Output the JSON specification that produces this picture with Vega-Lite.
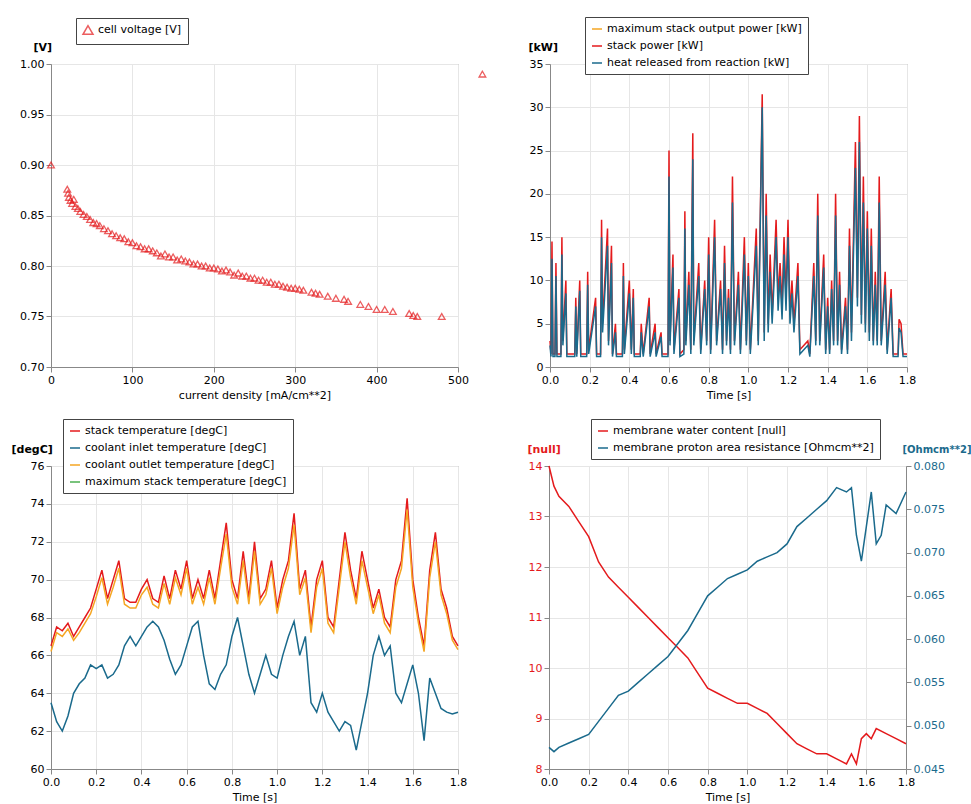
{
  "$schema": "https://vega.github.io/schema/vega-lite/v6.json",
  "background": "white",
  "padding": {"left": 10, "top": 16, "right": 0, "bottom": 0},
  "config": {
    "font": "DejaVu Sans",
    "view": {"stroke": "#999999"},
    "axis": {"labelFontSize": 11, "labelColor": "black", "titleFontSize": 11, "titleFontWeight": "normal", "titleColor": "black", "gridColor": "#e6e6e6", "domainColor": "#888", "tickColor": "#888", "labelOverlap": false, "labelFlush": false},
    "legend": {"orient": "none", "strokeColor": "#444", "fillColor": "white", "padding": 6, "labelFontSize": 11, "labelColor": "black", "title": null, "symbolStrokeWidth": 1.5, "rowPadding": 6, "labelLimit": 400},
    "concat": {"spacing": 10}
  },
  "datasets": {
    "iv": [
      {"j": 0, "v": 0.9}, {"j": 20, "v": 0.876}, {"j": 21, "v": 0.872}, {"j": 22, "v": 0.868}, {"j": 24, "v": 0.865}, {"j": 26, "v": 0.862}, {"j": 28, "v": 0.866}, {"j": 30, "v": 0.859}, {"j": 33, "v": 0.857},
      {"j": 36, "v": 0.854}, {"j": 40, "v": 0.851}, {"j": 44, "v": 0.849}, {"j": 48, "v": 0.846}, {"j": 52, "v": 0.843}, {"j": 56, "v": 0.842}, {"j": 60, "v": 0.84}, {"j": 65, "v": 0.837},
      {"j": 70, "v": 0.835}, {"j": 75, "v": 0.832}, {"j": 80, "v": 0.83}, {"j": 85, "v": 0.828}, {"j": 90, "v": 0.827}, {"j": 95, "v": 0.824}, {"j": 100, "v": 0.823}, {"j": 105, "v": 0.82},
      {"j": 110, "v": 0.819}, {"j": 115, "v": 0.817}, {"j": 120, "v": 0.817}, {"j": 125, "v": 0.815}, {"j": 130, "v": 0.813}, {"j": 135, "v": 0.81}, {"j": 140, "v": 0.812}, {"j": 145, "v": 0.809},
      {"j": 150, "v": 0.809}, {"j": 155, "v": 0.806}, {"j": 160, "v": 0.807}, {"j": 165, "v": 0.805}, {"j": 170, "v": 0.804}, {"j": 175, "v": 0.802}, {"j": 180, "v": 0.802}, {"j": 185, "v": 0.8},
      {"j": 190, "v": 0.8}, {"j": 195, "v": 0.798}, {"j": 200, "v": 0.798}, {"j": 205, "v": 0.797}, {"j": 210, "v": 0.795}, {"j": 215, "v": 0.796}, {"j": 220, "v": 0.794}, {"j": 225, "v": 0.791},
      {"j": 230, "v": 0.793}, {"j": 235, "v": 0.79}, {"j": 240, "v": 0.79}, {"j": 245, "v": 0.788}, {"j": 250, "v": 0.788}, {"j": 255, "v": 0.786}, {"j": 260, "v": 0.786}, {"j": 265, "v": 0.784},
      {"j": 270, "v": 0.784}, {"j": 275, "v": 0.782}, {"j": 280, "v": 0.782}, {"j": 285, "v": 0.78}, {"j": 290, "v": 0.779}, {"j": 295, "v": 0.778}, {"j": 300, "v": 0.778}, {"j": 305, "v": 0.777},
      {"j": 310, "v": 0.776}, {"j": 320, "v": 0.774}, {"j": 325, "v": 0.773}, {"j": 330, "v": 0.772}, {"j": 340, "v": 0.77}, {"j": 350, "v": 0.768}, {"j": 360, "v": 0.767}, {"j": 365, "v": 0.765},
      {"j": 380, "v": 0.762}, {"j": 390, "v": 0.76}, {"j": 400, "v": 0.757}, {"j": 410, "v": 0.757}, {"j": 420, "v": 0.755}, {"j": 440, "v": 0.753}, {"j": 445, "v": 0.751}, {"j": 450, "v": 0.75},
      {"j": 480, "v": 0.75}, {"j": 530, "v": 0.99}
    ],
    "power": [
      [0,3,2.5],[5,1.5,1.2],[10,14.5,12.5],[15,1.5,1.2],[25,1.5,1.2],[30,12,10.5],[35,1.5,1.2],[55,1.5,1.2],[60,15,13],[65,3,2.5],[80,10,8.5],[85,1.5,1.2],[125,1.5,1.2],[130,8,7],[135,1.5,1.2],[150,10,8.8],[155,1.5,1.2],[185,1.5,1.2],[190,11,9.5],[195,2,1.5],[230,8,7],[235,1.5,1.2],[255,1.5,1.2],[260,17,15],[265,5,4],[290,16,14],[295,3,2.5],[310,14,12],[315,1.5,1.2],[330,5,4],[335,1.5,1.2],[365,1.5,1.2],[370,12,10.5],[375,2,1.5],[400,10,8.5],[410,2,1.5],[420,9,8],[425,1.5,1.2],[455,1.5,1.2],[460,5,4],[470,1.5,1.2],[500,8,7],[505,1.5,1.2],[530,5,4],[535,1.5,1.2],[560,4,3.5],[565,1.5,1.2],[595,1.5,1.2],[600,25,22],[605,3,2.5],[620,13,11.5],[625,2,1.5],[650,9,8],[655,1.5,1.2],[675,2,1.5],[680,18,16],[685,3,2.5],[700,11,9.5],[710,2,1.5],[720,27,24],[725,3,2.5],[750,12,10.5],[760,2,1.5],[780,10,9],[790,3,2.5],[800,15,13],[810,2,1.5],[830,17,15],[840,3,2.5],[860,10,9],[870,2,1.5],[880,14,12],[890,3,2.5],[900,9,8],[910,2,1.5],[920,22,19],[930,3,2.5],[950,11,9.5],[960,2,1.5],[980,15,13],[990,3,2.5],[1000,12,10.5],[1010,2,1.5],[1040,16,14],[1050,3,2.5],[1070,31.5,30],[1080,4,3],[1090,20,17.5],[1100,5,4],[1110,13,11],[1120,6,5],[1140,17,15],[1150,8,6.5],[1160,12,10.5],[1170,7,5.5],[1180,15,13],[1190,8,6.5],[1200,17,15],[1210,6,5],[1220,10,8.5],[1230,5,4],[1250,12,10.5],[1260,2,1.5],[1300,3,2.5],[1310,1.5,1.2],[1330,12,10.5],[1340,3,2.5],[1350,20,17.5],[1360,3,2.5],[1380,13,11.5],[1390,2,1.5],[1400,8,7],[1410,2,1.5],[1420,10,9],[1430,3,2.5],[1440,20,17.5],[1450,3,2.5],[1460,11,9.5],[1470,2,1.5],[1490,8,7],[1500,2,1.5],[1510,16,14],[1520,4,3],[1540,26,23],[1550,8,7],[1560,29,26],[1570,6,5],[1580,22,19],[1590,5,4],[1600,18,16],[1610,4,3],[1620,16,14],[1630,3,2.5],[1640,11,9.5],[1650,3,2.5],[1660,22,19],[1670,3,2.5],[1690,11,9.5],[1700,2,1.5],[1720,9,8],[1730,1.5,1.2],[1755,1.5,1.2],[1760,5.5,4.5],[1770,5,4],[1780,1.5,1.2],[1800,1.5,1.2]
    ],
    "temp": [
      [0,66.5,66.2,63.5],[25,67.5,67.2,62.5],[50,67.3,67.0,62.0],[75,67.7,67.4,62.8],[100,67.0,66.8,64.0],[125,67.5,67.2,64.5],[150,68.0,67.7,64.8],[175,68.5,68.2,65.5],[200,69.5,69.1,65.3],[225,70.5,70.1,65.5],[250,69.0,68.7,64.8],[275,70.0,69.6,65.0],[300,71.0,70.6,65.5],[325,69.0,68.7,66.5],[350,68.8,68.5,67.0],[375,68.8,68.5,66.5],[400,69.5,69.2,67.0],[425,70.0,69.6,67.5],[450,69.0,68.7,67.8],[475,68.8,68.5,67.5],[500,70.2,69.8,66.8],[525,69.0,68.7,65.8],[550,70.5,70.1,65.0],[575,69.5,69.2,65.5],[600,71.0,70.6,66.5],[625,69.0,68.7,67.5],[650,70.0,69.6,67.8],[675,69.0,68.7,66.0],[700,70.5,70.1,64.5],[725,69.0,68.7,64.2],[750,71.0,70.6,65.0],[775,73.0,72.4,65.5],[800,70.0,69.6,67.0],[825,69.0,68.7,68.0],[850,71.5,71.0,66.5],[875,69.0,68.7,65.0],[900,72.0,71.5,64.0],[925,69.0,68.7,65.0],[950,69.5,69.2,66.0],[975,71.0,70.6,65.0],[1000,68.5,68.2,64.8],[1025,70.0,69.6,66.0],[1050,71.0,70.6,67.0],[1075,73.5,72.9,67.8],[1100,69.5,69.2,66.0],[1125,70.5,70.1,67.0],[1150,67.5,67.2,63.5],[1175,70.0,69.6,63.0],[1200,71.0,70.6,64.0],[1225,68.0,67.7,63.0],[1250,67.5,67.2,62.5],[1275,70.0,69.6,62.0],[1300,72.5,72.0,62.5],[1325,70.5,70.1,62.3],[1350,69.0,68.7,61.0],[1375,71.5,71.0,62.5],[1400,70.0,69.6,64.0],[1425,68.5,68.2,66.0],[1450,69.5,69.2,67.0],[1475,68.0,67.7,66.0],[1500,67.5,67.2,66.5],[1525,70.0,69.6,64.0],[1550,71.0,70.6,63.5],[1575,74.3,73.7,64.5],[1600,70.0,69.6,65.5],[1625,68.0,67.7,64.0],[1650,66.5,66.2,61.5],[1675,70.5,70.1,64.8],[1700,72.5,72.0,64.0],[1725,69.5,69.2,63.2],[1750,68.5,68.2,63.0],[1775,67.0,66.8,62.9],[1800,66.5,66.3,63.0]
    ],
    "water": [
      {"t":0,"w":14.0},{"t":25,"w":13.6},{"t":50,"w":13.4},{"t":100,"w":13.2},{"t":150,"w":12.9},{"t":200,"w":12.6},{"t":250,"w":12.1},{"t":300,"w":11.8},{"t":350,"w":11.6},{"t":400,"w":11.4},{"t":450,"w":11.2},{"t":500,"w":11.0},{"t":550,"w":10.8},{"t":600,"w":10.6},{"t":650,"w":10.4},{"t":700,"w":10.2},{"t":750,"w":9.9},{"t":800,"w":9.6},{"t":850,"w":9.5},{"t":900,"w":9.4},{"t":950,"w":9.3},{"t":1000,"w":9.3},{"t":1050,"w":9.2},{"t":1100,"w":9.1},{"t":1150,"w":8.9},{"t":1200,"w":8.7},{"t":1250,"w":8.5},{"t":1300,"w":8.4},{"t":1350,"w":8.3},{"t":1400,"w":8.3},{"t":1450,"w":8.2},{"t":1500,"w":8.1},{"t":1525,"w":8.3},{"t":1550,"w":8.1},{"t":1575,"w":8.6},{"t":1600,"w":8.7},{"t":1625,"w":8.6},{"t":1650,"w":8.8},{"t":1700,"w":8.7},{"t":1750,"w":8.6},{"t":1800,"w":8.5}
    ],
    "resist": [
      {"t":0,"r":0.0475},{"t":25,"r":0.047},{"t":50,"r":0.0475},{"t":100,"r":0.048},{"t":150,"r":0.0485},{"t":200,"r":0.049},{"t":250,"r":0.0505},{"t":300,"r":0.052},{"t":350,"r":0.0535},{"t":400,"r":0.054},{"t":450,"r":0.055},{"t":500,"r":0.056},{"t":550,"r":0.057},{"t":600,"r":0.058},{"t":650,"r":0.0595},{"t":700,"r":0.061},{"t":750,"r":0.063},{"t":800,"r":0.065},{"t":850,"r":0.066},{"t":900,"r":0.067},{"t":950,"r":0.0675},{"t":1000,"r":0.068},{"t":1050,"r":0.069},{"t":1100,"r":0.0695},{"t":1150,"r":0.07},{"t":1200,"r":0.071},{"t":1250,"r":0.073},{"t":1300,"r":0.074},{"t":1350,"r":0.075},{"t":1400,"r":0.076},{"t":1450,"r":0.0775},{"t":1500,"r":0.077},{"t":1525,"r":0.0775},{"t":1550,"r":0.072},{"t":1575,"r":0.069},{"t":1600,"r":0.073},{"t":1625,"r":0.077},{"t":1650,"r":0.071},{"t":1675,"r":0.072},{"t":1700,"r":0.0755},{"t":1750,"r":0.0745},{"t":1800,"r":0.077}
    ]
  },
  "vconcat": [
    {
      "hconcat": [
        {
          "width": 407, "height": 303,
          "data": {"name": "iv"},
          "mark": {"type": "point", "shape": "triangle-up", "filled": false, "strokeWidth": 1.3, "size": 45},
          "encoding": {
            "x": {"field": "j", "type": "quantitative", "scale": {"domain": [0, 500]}, "axis": {"title": "current density [mA/cm**2]", "tickCount": 5}},
            "y": {"field": "v", "type": "quantitative", "scale": {"domain": [0.7, 1.0]}, "axis": {"title": "[V]", "titleAngle": 0, "titleAnchor": "end", "titleAlign": "left", "titleX": -18, "titleY": -12, "titleFontWeight": "bold", "format": ".2f", "tickCount": 6}},
            "color": {"datum": "cell voltage [V]", "scale": {"range": ["#e41a1c"]}, "legend": {"legendX": 25, "legendY": -46, "symbolType": "triangle-up"}}
          }
        },
        {
          "width": 357, "height": 303,
          "layer": [
            {
              "data": {"name": "power"},
              "transform": [{"fold": ["1", "2"], "as": ["s", "val"]}],
              "mark": {"type": "line", "strokeWidth": 1.5},
              "encoding": {
                "x": {"field": "0", "type": "quantitative", "scale": {"domain": [0, 1800]}, "axis": {"title": "Time [s]", "values": [0,200,400,600,800,1000,1200,1400,1600,1800], "labelExpr": "format(datum.value/1000, '.1f')"}},
                "y": {"field": "val", "type": "quantitative", "scale": {"domain": [0, 35]}, "axis": {"title": "[kW]", "titleAngle": 0, "titleAnchor": "end", "titleAlign": "left", "titleX": -22, "titleY": -12, "titleFontWeight": "bold", "values": [0,5,10,15,20,25,30,35]}},
                "color": {"field": "s", "type": "nominal", "scale": {"domain": ["0", "1", "2"], "range": ["#f5a623", "#e41a1c", "#1a6a8c"]},
                  "legend": {"legendX": 35, "legendY": -47, "symbolType": "stroke", "labelExpr": "datum.value == '0' ? 'maximum stack output power [kW]' : datum.value == '1' ? 'stack power [kW]' : 'heat released from reaction [kW]'"}}
              }
            },
            {
              "mark": {"type": "rule", "strokeWidth": 1.5},
              "encoding": {
                "y": {"datum": 31.5, "axis": {"title": "[kW]", "titleAngle": 0, "titleAnchor": "end", "titleAlign": "left", "titleX": -22, "titleY": -12, "titleFontWeight": "bold", "values": [0,5,10,15,20,25,30,35]}},
                "color": {"datum": "0"}
              }
            }
          ]
        }
      ],
      "spacing": 38,
      "resolve": {"scale": {"color": "independent"}}
    },
    {
      "hconcat": [
        {
          "width": 407, "height": 303,
          "layer": [
            {
              "data": {"name": "temp"},
              "transform": [{"fold": ["1", "3", "2"], "as": ["s", "val"]}],
              "mark": {"type": "line", "strokeWidth": 1.5},
              "encoding": {
                "x": {"field": "0", "type": "quantitative", "scale": {"domain": [0, 1800]}, "axis": {"title": "Time [s]", "values": [0,200,400,600,800,1000,1200,1400,1600,1800], "labelExpr": "format(datum.value/1000, '.1f')"}},
                "y": {"field": "val", "type": "quantitative", "scale": {"domain": [60, 76]}, "axis": {"title": "[degC]", "titleAngle": 0, "titleAnchor": "end", "titleAlign": "left", "titleX": -40, "titleY": -12, "titleFontWeight": "bold", "values": [60,62,64,66,68,70,72,74,76]}},
                "color": {"field": "s", "type": "nominal", "scale": {"domain": ["1", "3", "2", "4"], "range": ["#e41a1c", "#1a6a8c", "#f5a623", "#4caf50"]},
                  "legend": {"legendX": 12, "legendY": -47, "symbolType": "stroke", "labelExpr": "datum.value == '1' ? 'stack temperature [degC]' : datum.value == '3' ? 'coolant inlet temperature [degC]' : datum.value == '2' ? 'coolant outlet temperature [degC]' : 'maximum stack temperature [degC]'"}}
              }
            },
            {
              "mark": {"type": "rule", "strokeWidth": 1.5},
              "encoding": {"y": {"datum": 74.4, "axis": {"title": "[degC]", "titleAngle": 0, "titleAnchor": "end", "titleAlign": "left", "titleX": -40, "titleY": -12, "titleFontWeight": "bold", "values": [60,62,64,66,68,70,72,74,76]}}, "color": {"datum": "4"}}
            }
          ]
        },
        {
          "width": 357, "height": 303,
          "layer": [
            {
              "data": {"name": "water"},
              "mark": {"type": "line", "strokeWidth": 1.5},
              "encoding": {
                "x": {"field": "t", "type": "quantitative", "scale": {"domain": [0, 1800]}, "axis": {"title": "Time [s]", "values": [0,200,400,600,800,1000,1200,1400,1600,1800], "labelExpr": "format(datum.value/1000, '.1f')"}},
                "y": {"field": "w", "type": "quantitative", "scale": {"domain": [8, 14]}, "axis": {"title": "[null]", "titleColor": "#e41a1c", "labelColor": "#e41a1c", "titleAngle": 0, "titleAnchor": "end", "titleAlign": "left", "titleX": -22, "titleY": -12, "titleFontWeight": "bold", "values": [8,9,10,11,12,13,14]}},
                "color": {"datum": "membrane water content [null]", "scale": {"domain": ["membrane water content [null]", "membrane proton area resistance [Ohmcm**2]"], "range": ["#e41a1c", "#1a6a8c"]}, "legend": {"legendX": 42, "legendY": -47, "symbolType": "stroke"}}
              }
            },
            {
              "data": {"name": "resist"},
              "mark": {"type": "line", "strokeWidth": 1.5},
              "encoding": {
                "x": {"field": "t", "type": "quantitative", "axis": {"title": "Time [s]", "values": [0,200,400,600,800,1000,1200,1400,1600,1800], "labelExpr": "format(datum.value/1000, '.1f')"}},
                "y": {"field": "r", "type": "quantitative", "scale": {"domain": [0.045, 0.08]}, "axis": {"orient": "right", "title": "[Ohmcm**2]", "titleColor": "#1a6a8c", "labelColor": "#1a6a8c", "titleAngle": 0, "titleAnchor": "end", "titleAlign": "left", "titleX": -4, "titleY": -12, "titleFontWeight": "bold", "titleFontSize": 10, "format": ".3f", "values": [0.045,0.05,0.055,0.06,0.065,0.07,0.075,0.08]}},
                "color": {"datum": "membrane proton area resistance [Ohmcm**2]"}
              }
            }
          ],
          "resolve": {"scale": {"y": "independent"}}
        }
      ],
      "spacing": 58,
      "resolve": {"scale": {"color": "independent"}}
    }
  ],
  "spacing": 17,
  "resolve": {"scale": {"color": "independent"}}
}
